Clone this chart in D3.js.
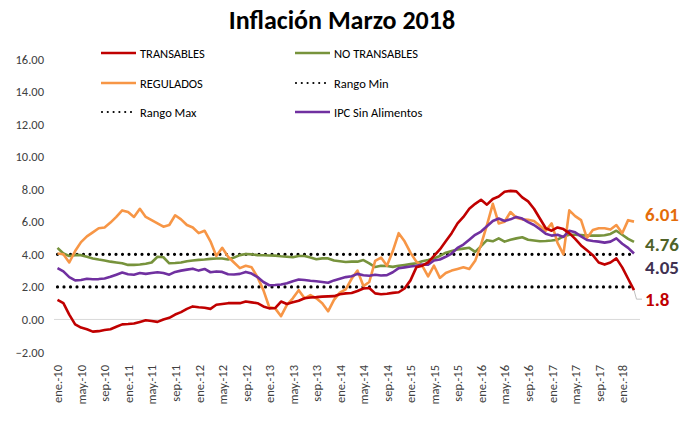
<!DOCTYPE html>
<html><head><meta charset="utf-8">
<script src="https://cdn.jsdelivr.net/npm/d3@7"></script>
<style>
body{margin:0;background:#fff;}
svg{display:block;}
text{font-family:Carlito,"Liberation Sans Narrow","Arial Narrow","Liberation Sans",sans-serif;}
</style></head>
<body>
<svg id="c" width="691" height="427"></svg>
<script>
// Monthly data ene.-2010 .. mar.-2018 (99 months)
const transables = [1.2,1.0,0.3,-0.3,-0.5,-0.6,-0.75,-0.72,-0.65,-0.6,-0.45,-0.3,-0.28,-0.25,-0.15,-0.05,-0.1,-0.15,0.0,0.1,0.3,0.45,0.65,0.8,0.75,0.72,0.65,0.9,0.95,1.0,1.0,1.0,1.1,1.05,1.0,0.8,0.68,0.7,1.1,0.95,1.05,1.15,1.3,1.35,1.37,1.4,1.42,1.43,1.55,1.6,1.62,1.75,1.9,1.93,1.6,1.55,1.58,1.63,1.67,1.9,2.4,3.2,3.3,3.5,3.9,4.3,4.8,5.3,5.9,6.3,6.8,7.1,7.35,7.05,7.4,7.55,7.85,7.9,7.87,7.5,7.25,6.8,6.2,5.6,5.45,5.65,5.55,5.3,4.95,4.55,4.25,3.95,3.5,3.37,3.5,3.75,3.2,2.5,1.8];
const noTransables = [4.4,4.05,3.9,3.95,3.95,3.85,3.75,3.68,3.62,3.55,3.5,3.45,3.35,3.35,3.38,3.42,3.5,3.85,3.82,3.45,3.47,3.5,3.58,3.62,3.66,3.68,3.72,3.74,3.74,3.68,3.8,3.95,4.02,4.0,3.95,3.94,3.93,3.92,3.88,3.85,3.82,3.9,3.9,3.8,3.7,3.75,3.75,3.62,3.58,3.53,3.55,3.55,3.65,3.45,3.22,3.3,3.28,3.23,3.3,3.35,3.4,3.45,3.58,3.65,3.75,3.9,4.1,4.2,4.3,4.35,4.4,4.15,4.5,4.87,4.8,4.98,4.78,4.9,4.98,5.05,4.9,4.85,4.8,4.82,4.85,4.9,5.1,5.2,5.2,5.18,5.15,5.15,5.15,5.17,5.25,5.45,5.2,4.95,4.76];
const regulados = [4.05,4.0,3.5,4.2,4.75,5.1,5.35,5.6,5.65,5.95,6.3,6.7,6.6,6.3,6.8,6.3,6.1,5.9,5.7,5.8,6.4,6.15,5.8,5.65,5.3,5.45,4.8,3.9,4.4,3.85,3.5,3.15,3.3,3.2,2.6,1.8,0.75,0.68,0.2,0.9,1.3,1.8,1.3,1.5,1.3,1.0,0.5,1.2,1.65,1.85,2.5,3.0,2.05,2.3,3.6,3.8,3.3,4.2,5.3,4.8,4.1,3.55,3.3,2.65,3.3,2.55,2.85,3.0,3.1,3.2,3.1,3.6,4.6,5.8,7.1,5.9,6.0,6.6,6.25,6.15,6.12,6.05,5.75,5.45,5.9,4.7,4.0,6.7,6.35,6.1,5.0,5.5,5.6,5.6,5.52,5.8,5.3,6.1,6.01];
const ipcSinAlimentos = [3.15,2.95,2.6,2.4,2.42,2.5,2.47,2.48,2.52,2.62,2.75,2.88,2.78,2.75,2.85,2.8,2.85,2.9,2.85,2.75,2.92,3.0,3.06,3.12,3.0,3.1,2.9,2.95,2.92,2.78,2.76,2.8,2.92,2.82,2.6,2.3,2.1,2.12,2.15,2.22,2.35,2.45,2.42,2.38,2.35,2.3,2.25,2.4,2.5,2.6,2.65,2.8,2.72,2.68,2.75,2.7,2.72,2.9,3.15,3.2,3.25,3.3,3.37,3.37,3.62,3.68,3.85,4.05,4.4,4.6,4.9,5.2,5.4,5.72,6.05,6.2,6.05,6.15,6.3,6.2,5.98,5.8,5.55,5.27,5.15,5.2,5.07,5.45,5.35,5.1,4.88,4.82,4.78,4.72,4.78,4.98,4.65,4.4,4.05];
const rangoMin = 2;
const rangoMax = 4;
const tickIdx = [0,4,8,12,16,20,24,28,32,36,40,44,48,52,56,60,64,68,72,76,80,84,88,92,96];
const tickLabels = ["ene.-10","may.-10","sep.-10","ene.-11","may.-11","sep.-11","ene.-12","may.-12","sep.-12","ene.-13","may.-13","sep.-13","ene.-14","may.-14","sep.-14","ene.-15","may.-15","sep.-15","ene.-16","may.-16","sep.-16","ene.-17","may.-17","sep.-17","ene.-18"];
const yTicks = [-2,0,2,4,6,8,10,12,14,16];
const endLabels = ["6.01","4.76","4.05","1.8"];

const svg = d3.select("#c");
const n = transables.length;
const x = d3.scaleLinear().domain([0, n-1]).range([57.5, 634]);
const y = d3.scaleLinear().domain([-2, 16]).range([352, 59]);

// title
svg.append("text").attr("x",342).attr("y",29).attr("text-anchor","middle")
  .attr("font-size",26).attr("font-weight","bold").attr("fill","#000").text("Inflación Marzo 2018");

// y axis
const ya = svg.append("g").attr("transform","translate(50,0)")
  .call(d3.axisLeft(y).tickValues(yTicks).tickFormat(d3.format(".2f")).tickSize(0).tickPadding(6));
ya.select(".domain").remove();
ya.selectAll("text").attr("font-size",12.5).attr("fill","#404040").style("font-family",null);

// zero line
svg.append("line").attr("x1",54).attr("x2",640).attr("y1",y(0)).attr("y2",y(0))
  .attr("stroke","#d9d9d9").attr("stroke-width",1);

// x axis
const xa = svg.append("g").attr("transform",`translate(0,${y(-2)})`)
  .call(d3.axisBottom(x).tickValues(tickIdx).tickFormat((d,i)=>tickLabels[i]).tickSize(0));
xa.select(".domain").remove();
xa.selectAll("text").attr("transform","rotate(-90)").attr("text-anchor","end")
  .attr("x",-13).attr("y",0).attr("dy","0.35em").attr("font-size",12.5).attr("fill","#404040").style("font-family",null);

const line = d3.line().x((d,i)=>x(i)).y(d=>y(d));

// dotted range lines
function dotted(v){
  svg.append("path").datum(d3.range(n).map(()=>v)).attr("d",line).attr("fill","none")
    .attr("stroke","#000").attr("stroke-width",3.2).attr("stroke-linecap","round").attr("stroke-dasharray","0 6.5");
}
dotted(rangoMax); dotted(rangoMin);

const series = [
  {data:noTransables,color:"#77933c"},
  {data:regulados,color:"#f79646"},
  {data:ipcSinAlimentos,color:"#7030a0"},
  {data:transables,color:"#c00000"}
];
series.forEach(s=>{
  svg.append("path").datum(s.data).attr("d",line).attr("fill","none")
    .attr("stroke",s.color).attr("stroke-width",2.6).attr("stroke-linejoin","round");
});

// leader line for 1.8
const lx = x(n-1), ly = y(transables[n-1]);
svg.append("polyline").attr("points",`${lx},${ly} ${lx+2.5},${ly+9} ${lx+8},${ly+9}`)
  .attr("fill","none").attr("stroke","#bfbfbf").attr("stroke-width",1);

// end labels
const endCfg = [
  {t:endLabels[0],y:221,c:"#e46c0a"},
  {t:endLabels[1],y:251,c:"#4f6228"},
  {t:endLabels[2],y:274,c:"#403151"},
  {t:endLabels[3],y:306,c:"#c00000"}
];
endCfg.forEach(e=>{
  svg.append("text").attr("x",645).attr("y",e.y).attr("font-size",19).attr("font-weight","bold")
    .attr("fill",e.c).text(e.t);
});

// legend
const leg = [
  {t:"TRANSABLES",x:101,y:53,c:"#c00000",dot:false},
  {t:"NO TRANSABLES",x:295,y:53,c:"#77933c",dot:false},
  {t:"REGULADOS",x:101,y:83,c:"#f79646",dot:false},
  {t:"Rango Min",x:295,y:83,c:"#000",dot:true},
  {t:"Rango Max",x:101,y:112,c:"#000",dot:true},
  {t:"IPC Sin Alimentos",x:295,y:112,c:"#7030a0",dot:false}
];
leg.forEach(l=>{
  const ln = svg.append("line").attr("x1",l.x+ (l.dot?1:0)).attr("x2",l.x+35).attr("y1",l.y).attr("y2",l.y)
    .attr("stroke",l.c);
  if(l.dot) ln.attr("stroke-width",2.2).attr("stroke-linecap","round").attr("stroke-dasharray","0 5.8");
  else ln.attr("stroke-width",2.6);
  svg.append("text").attr("x",l.x+39).attr("y",l.y+4.5).attr("font-size",12.5).attr("fill","#000").text(l.t);
});
</script>
</body></html>
